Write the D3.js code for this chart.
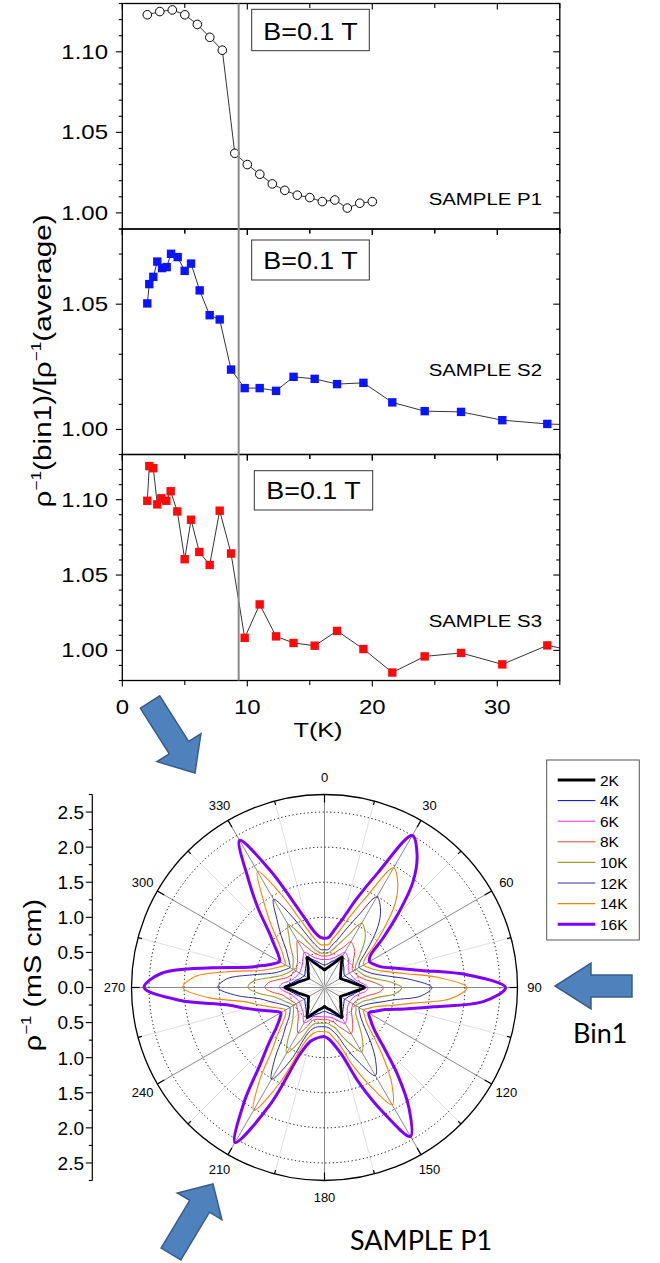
<!DOCTYPE html>
<html><head><meta charset="utf-8">
<script src="https://cdn.jsdelivr.net/npm/d3@7"></script>
<style>body{margin:0;background:#fff}svg{display:block}text{font-family:"Liberation Sans",Arial,sans-serif;fill:#000}</style>
</head><body><svg id="c" width="660" height="1263"></svg>
<script>
// ---------- DATA ----------
const tP1 = [2,3,4,5,6,7,8,9,10,11,12,13,14,15,16,17,18,19,20];
const vP1 = [1.123,1.125,1.126,1.123,1.117,1.109,1.101,1.037,1.030,1.024,1.018,1.014,1.011,1.0095,1.007,1.008,1.003,1.006,1.007];
const tS2 = [2.0,2.16,2.48,2.8,3.18,3.55,3.9,4.43,4.99,5.5,6.19,6.99,7.79,8.7,9.79,10.99,12.3,13.7,15.39,17.18,19.29,21.6,24.19,27.1,30.4,34.0,37.5];
const vS2 = [1.0503,1.058,1.0609,1.067,1.0644,1.0648,1.0701,1.0688,1.0633,1.0662,1.0555,1.0456,1.0439,1.0239,1.0165,1.0165,1.0154,1.0210,1.0202,1.0181,1.0186,1.0108,1.0073,1.0070,1.0037,1.0022,1.0015];
const tS3 = [2.0,2.16,2.48,2.8,3.12,3.52,3.87,4.4,4.99,5.5,6.16,6.99,7.79,8.7,9.79,10.99,12.3,13.7,15.39,17.18,19.29,21.6,24.19,27.1,30.4,34.0,37.5];
const vS3 = [1.0993,1.1223,1.1209,1.0969,1.1009,1.0993,1.1056,1.0922,1.0605,1.0867,1.0653,1.0567,1.0927,1.0643,1.0083,1.0305,1.0093,1.0049,1.0031,1.0129,1.0009,0.9853,0.996,0.9983,0.9907,1.0033,0.9975];
const xTicks = [0,10,20,30];
const tcLine = 9.31;

const angles = [0,5,10,15,20,25,30,35,40,45,50,55,60,65,70,75,80,85,90,95,100,105,110,115,120,125,130,135,140,145,150,155,160,165,170,175,180,185,190,195,200,205,210,215,220,225,230,235,240,245,250,255,260,265,270,275,280,285,290,295,300,305,310,315,320,325,330,335,340,345,350,355];
const r2K = [0.25,0.27,0.29,0.32,0.36,0.42,0.50,0.42,0.37,0.33,0.30,0.28,
0.26,0.28,0.31,0.35,0.40,0.47,0.57,0.47,0.40,0.35,0.31,0.28,
0.26,0.28,0.30,0.33,0.36,0.42,0.49,0.42,0.37,0.33,0.31,0.29,
0.27,0.29,0.31,0.33,0.37,0.42,0.49,0.42,0.36,0.33,0.30,0.28,
0.26,0.28,0.31,0.35,0.40,0.46,0.56,0.46,0.40,0.35,0.31,0.28,
0.26,0.28,0.30,0.33,0.36,0.42,0.49,0.41,0.36,0.32,0.29,0.27];
const r4K = [0.32,0.33,0.35,0.38,0.41,0.46,0.52,0.46,0.42,0.39,0.36,0.34,
0.33,0.35,0.37,0.41,0.45,0.51,0.59,0.51,0.45,0.41,0.37,0.35,
0.33,0.34,0.36,0.38,0.41,0.45,0.51,0.46,0.42,0.39,0.37,0.35,
0.34,0.35,0.37,0.39,0.42,0.46,0.51,0.45,0.41,0.38,0.36,0.34,
0.33,0.35,0.37,0.41,0.45,0.51,0.59,0.51,0.45,0.41,0.37,0.35,
0.33,0.34,0.36,0.38,0.41,0.45,0.51,0.45,0.41,0.38,0.35,0.33];
const r6K = [0.40,0.40,0.41,0.43,0.46,0.51,0.58,0.56,0.53,0.48,0.44,0.42,
0.41,0.42,0.43,0.45,0.49,0.56,0.62,0.59,0.51,0.46,0.43,0.42,
0.41,0.42,0.43,0.46,0.50,0.55,0.59,0.54,0.49,0.45,0.43,0.42,
0.42,0.42,0.42,0.43,0.44,0.52,0.58,0.53,0.47,0.45,0.43,0.42,
0.41,0.42,0.44,0.46,0.50,0.58,0.64,0.61,0.52,0.46,0.44,0.42,
0.41,0.42,0.43,0.45,0.48,0.53,0.58,0.52,0.46,0.43,0.41,0.40];
const r8K = [0.45,0.45,0.47,0.50,0.56,0.63,0.75,0.72,0.67,0.59,0.53,0.48,
0.47,0.48,0.50,0.54,0.61,0.73,0.84,0.78,0.64,0.56,0.51,0.48,
0.47,0.48,0.50,0.55,0.62,0.70,0.76,0.67,0.59,0.51,0.48,0.46,
0.46,0.46,0.46,0.47,0.50,0.64,0.75,0.67,0.58,0.53,0.50,0.48,
0.47,0.49,0.52,0.56,0.61,0.75,0.85,0.80,0.66,0.55,0.51,0.49,
0.47,0.49,0.51,0.54,0.60,0.68,0.77,0.66,0.56,0.50,0.47,0.45];
const r10K = [0.49,0.49,0.53,0.59,0.69,0.84,1.06,1.00,0.90,0.75,0.63,0.54,
0.52,0.54,0.57,0.62,0.73,0.93,1.10,1.01,0.79,0.67,0.58,0.54,
0.52,0.55,0.58,0.67,0.80,0.95,1.06,0.90,0.74,0.60,0.55,0.51,
0.51,0.51,0.52,0.53,0.60,0.86,1.08,0.91,0.73,0.64,0.58,0.54,
0.52,0.54,0.59,0.65,0.74,0.94,1.09,1.02,0.80,0.65,0.58,0.54,
0.52,0.55,0.58,0.64,0.75,0.88,1.04,0.85,0.68,0.57,0.52,0.49];
const r12K = [0.54,0.54,0.61,0.70,0.87,1.12,1.49,1.39,1.21,0.97,0.75,0.61,
0.57,0.60,0.65,0.74,0.93,1.25,1.53,1.38,1.01,0.81,0.68,0.61,
0.57,0.61,0.68,0.81,1.03,1.27,1.45,1.19,0.93,0.71,0.62,0.57,
0.56,0.56,0.57,0.60,0.70,1.15,1.51,1.23,0.93,0.78,0.66,0.60,
0.57,0.61,0.68,0.79,0.93,1.27,1.52,1.40,1.04,0.78,0.67,0.61,
0.57,0.61,0.68,0.78,0.96,1.18,1.45,1.14,0.85,0.68,0.59,0.54];
const r14K = [0.61,0.61,0.71,0.84,1.09,1.44,1.97,1.82,1.57,1.21,0.91,0.70,
0.64,0.68,0.75,0.89,1.15,1.63,2.03,1.81,1.28,0.99,0.79,0.70,
0.64,0.70,0.79,0.99,1.31,1.67,1.93,1.55,1.18,0.85,0.72,0.64,
0.63,0.63,0.64,0.69,0.84,1.49,2.02,1.61,1.16,0.94,0.78,0.68,
0.64,0.70,0.81,0.96,1.16,1.66,2.02,1.84,1.32,0.94,0.79,0.70,
0.64,0.70,0.79,0.94,1.20,1.52,1.91,1.47,1.05,0.81,0.68,0.61];
const r16K = [0.70,0.72,0.84,1.02,1.35,1.81,2.50,2.30,1.96,1.48,1.08,0.80,
0.74,0.78,0.86,1.06,1.40,2.05,2.58,2.28,1.58,1.18,0.92,0.80,
0.73,0.80,0.92,1.18,1.62,2.10,2.45,1.95,1.45,1.02,0.84,0.74,
0.70,0.71,0.74,0.80,1.00,1.85,2.55,2.00,1.42,1.12,0.90,0.78,
0.72,0.80,0.95,1.15,1.42,2.08,2.57,2.33,1.62,1.12,0.92,0.80,
0.74,0.80,0.93,1.12,1.47,1.90,2.42,1.85,1.30,0.98,0.80,0.72];
const tempLabels = ["2K","4K","6K","8K","10K","12K","14K","16K"];
const polarSeries = [r2K,r4K,r6K,r8K,r10K,r12K,r14K,r16K];
const polarColors = ["#000000","#0000ff","#ff22ff","#ff3a3a","#9c9c3a","#2e2e99","#ff8000","#8000ff"];
const polarWidths = [2.8,1,1,1,1.1,1,1.1,3];
const angleLabels = [0,30,60,90,120,150,180,210,240,270,300,330];
const radialTicks = [0.5,1.0,1.5,2.0,2.5];

// ---------- DRAW ----------
const svg = d3.select("#c");
const x = d3.scaleLinear().domain([0,35]).range([122.3,559.8]);

function stext(g, str, tx, ty, size, sx, anchor, extra) {
  return g.append("text")
    .attr("transform", `translate(${tx},${ty})${extra||""} scale(${sx},1)`)
    .attr("font-size", size).attr("text-anchor", anchor).text(str);
}

const panels = [
  {T:tP1, v:vP1, dom:[0.99,1.13], top:3.5, bot:229, labels:[1.00,1.05,1.10], kind:"circle",
   box:[251.7,9.3,117.6,41.4], boxBase:40, sample:"SAMPLE P1", sampleBase:205},
  {T:tS2, v:vS2, dom:[0.99,1.08], top:229, bot:454.5, labels:[1.00,1.05], kind:"square", color:"#0a14ff",
   box:[251.7,240,117.6,40], boxBase:269, sample:"SAMPLE S2", sampleBase:375.5},
  {T:tS3, v:vS3, dom:[0.98,1.13], top:454.5, bot:680.5, labels:[1.00,1.05,1.10], kind:"square", color:"#ff0a0a",
   box:[254.3,470.7,118.4,39.3], boxBase:499, sample:"SAMPLE S3", sampleBase:626.5}
];
const x0 = x(0), x1 = x(35);

panels.forEach((p, i) => {
  const y = d3.scaleLinear().domain(p.dom).range([p.bot, p.top]);
  const g = svg.append("g");
  const cid = "clip" + i;
  svg.append("clipPath").attr("id", cid).append("rect")
    .attr("x", x0).attr("y", p.top).attr("width", x1 - x0).attr("height", p.bot - p.top);
  // y ticks (left outward, right inward)
  const k0 = Math.ceil(p.dom[0]*100 - 1e-6), k1 = Math.floor(p.dom[1]*100 + 1e-6);
  for (let k = k0; k <= k1; k++) {
    const yy = y(k/100), major = k % 5 === 0, L = major ? 6.5 : 3.5;
    g.append("line").attr("x1", x0 - L).attr("x2", x0).attr("y1", yy).attr("y2", yy).attr("stroke","#000").attr("stroke-width",1.1);
    g.append("line").attr("x1", x1 - L).attr("x2", x1).attr("y1", yy).attr("y2", yy).attr("stroke","#000").attr("stroke-width",1.1);
  }
  p.labels.forEach(v => stext(g, v.toFixed(2), 108, y(v) + 7, 20, 1.2, "end"));
  // x ticks (top inward, bottom outward -> both point down)
  for (let t = 0; t <= 35; t += 5) {
    const L = t % 10 === 0 ? 6 : 4.5;
    [p.top, p.bot].forEach(yy => g.append("line").attr("x1", x(t)).attr("x2", x(t))
      .attr("y1", yy).attr("y2", yy + L).attr("stroke","#000").attr("stroke-width",1.1));
  }
  // connecting line and markers
  const pts = p.T.map((t, j) => [t, p.v[j]]);
  const dg = g.append("g").attr("clip-path", `url(#${cid})`);
  dg.append("path").datum(pts)
    .attr("d", d3.line().x(d => x(d[0])).y(d => y(d[1])))
    .attr("fill","none").attr("stroke","#000").attr("stroke-width",0.8);
  if (p.kind === "circle") {
    dg.selectAll("circle").data(pts).join("circle")
      .attr("cx", d => x(d[0])).attr("cy", d => y(d[1])).attr("r", 4.3)
      .attr("fill","#fff").attr("stroke","#000").attr("stroke-width",1);
  } else {
    const s = 8.4;
    dg.selectAll("rect.m").data(pts).join("rect").attr("class","m")
      .attr("x", d => x(d[0]) - s/2).attr("y", d => y(d[1]) - s/2)
      .attr("width", s).attr("height", s).attr("fill", p.color);
  }
  // B box
  g.append("rect").attr("x", p.box[0]).attr("y", p.box[1]).attr("width", p.box[2]).attr("height", p.box[3])
    .attr("fill","#fff").attr("stroke","#333").attr("stroke-width",1);
  stext(g, "B=0.1 T", p.box[0] + p.box[2]/2, p.boxBase, 23, 1.17, "middle");
  stext(g, p.sample, 542, p.sampleBase, 17, 1.2, "end");
  // frame
  g.append("rect").attr("x", x0).attr("y", p.top).attr("width", x1 - x0).attr("height", p.bot - p.top)
    .attr("fill","none").attr("stroke","#000").attr("stroke-width",1.3);
});

// vertical Tc line
svg.append("line").attr("x1", x(tcLine)).attr("x2", x(tcLine)).attr("y1", 3.5).attr("y2", 680.5)
  .attr("stroke","#8a8a8a").attr("stroke-width",2);

// x tick labels and title
xTicks.forEach(t => stext(svg, String(t), x(t), 713.5, 21, 1.14, "middle"));
stext(svg, "T(K)", 318, 737, 21, 1.2, "middle");

// y axis title (rotated)
const yl = svg.append("text").attr("transform","translate(51,361) rotate(-90) scale(1.24,1)")
  .attr("text-anchor","middle").attr("font-size",24);
yl.append("tspan").text("ρ");
yl.append("tspan").attr("dy",-10).attr("font-size",14).text("−1");
yl.append("tspan").attr("dy",10).text("(bin1)/[ρ");
yl.append("tspan").attr("dy",-10).attr("font-size",14).text("−1");
yl.append("tspan").attr("dy",10).text("(average)");

// ---------- POLAR ----------
const cx = 324.5, cy = 987.5, R = 193;
const rs = d3.scaleLinear().domain([0,2.75]).range([0,R]);
const pg = svg.append("g").attr("transform",`translate(${cx},${cy})`);
const rad = a => a * Math.PI / 180;
for (let a = 0; a < 360; a += 15) {
  const major = a % 30 === 0;
  pg.append("line").attr("x1",0).attr("y1",0)
    .attr("x2", Math.sin(rad(a)) * R).attr("y2", -Math.cos(rad(a)) * R)
    .attr("stroke", major ? "#8a8a8a" : "#dcdcdc").attr("stroke-width", major ? 1 : 0.9);
}
radialTicks.forEach(v => pg.append("circle").attr("r", rs(v)).attr("fill","none")
  .attr("stroke","#000").attr("stroke-width",1).attr("stroke-dasharray","1.2,2.6"));
pg.append("circle").attr("r", R).attr("fill","none").attr("stroke","#000").attr("stroke-width",1.3);
for (let a = 0; a < 360; a += 15) {
  const L = a % 30 === 0 ? 8 : 4;
  pg.append("line")
    .attr("x1", Math.sin(rad(a)) * R).attr("y1", -Math.cos(rad(a)) * R)
    .attr("x2", Math.sin(rad(a)) * (R - L)).attr("y2", -Math.cos(rad(a)) * (R - L))
    .attr("stroke","#000").attr("stroke-width",1.2);
}
const radial = d3.lineRadial().angle(d => rad(d[0])).radius(d => rs(d[1]))
  .curve(d3.curveCatmullRomClosed.alpha(0.5));
for (let i = polarSeries.length - 1; i >= 0; i--) {
  const data = angles.map((a, j) => [a, polarSeries[i][j]]);
  pg.append("path").datum(data).attr("d", radial).attr("fill","none")
    .attr("stroke", polarColors[i]).attr("stroke-width", polarWidths[i]).attr("stroke-linejoin","round");
}
angleLabels.forEach(a => pg.append("text")
  .attr("x", Math.sin(rad(a)) * 210).attr("y", -Math.cos(rad(a)) * 210).attr("dy","0.35em")
  .attr("text-anchor","middle").attr("font-size",13).text(a));

// left radial axis
const ax = 92.3;
svg.append("line").attr("x1",ax).attr("x2",ax).attr("y1",cy - rs(2.75)).attr("y2",cy + rs(2.75))
  .attr("stroke","#000").attr("stroke-width",1.2);
for (let k = 0; k <= 11; k++) {
  const v = k * 0.25, major = k % 2 === 0, L = major ? 6.5 : 3.5;
  const ys = k === 0 ? [cy] : [cy - rs(v), cy + rs(v)];
  ys.forEach(yy => {
    svg.append("line").attr("x1", ax - L).attr("x2", ax).attr("y1", yy).attr("y2", yy)
      .attr("stroke","#000").attr("stroke-width",1.1);
    if (major && v <= 2.5) svg.append("text").attr("x", 84).attr("y", yy).attr("dy","0.36em")
      .attr("text-anchor","end").attr("font-size",19).text(v.toFixed(1));
  });
}
const pl = svg.append("text").attr("transform","translate(41,975) rotate(-90) scale(1.2,1)")
  .attr("text-anchor","middle").attr("font-size",24);
pl.append("tspan").text("ρ");
pl.append("tspan").attr("dy",-10).attr("font-size",14).text("−1");
pl.append("tspan").attr("dy",10).text(" (mS cm)");

// legend
const lg = svg.append("g");
lg.append("rect").attr("x",546.7).attr("y",760).attr("width",92.6).attr("height",180)
  .attr("fill","#fff").attr("stroke","#555").attr("stroke-width",1);
tempLabels.forEach((lab, i) => {
  const yy = 780 + i * 20.6;
  lg.append("line").attr("x1",557.7).attr("x2",595.3).attr("y1",yy).attr("y2",yy)
    .attr("stroke", polarColors[i]).attr("stroke-width", polarWidths[i]);
  lg.append("text").attr("x",600).attr("y",yy).attr("dy","0.36em").attr("font-size",15.5).text(lab);
});

// block arrows
function arrow(tail, tip, shaftW, headW, headL) {
  const dx = tip[0]-tail[0], dy = tip[1]-tail[1], L = Math.hypot(dx,dy);
  const ux = dx/L, uy = dy/L, px = -uy, py = ux;
  const bx = tip[0]-ux*headL, by = tip[1]-uy*headL;
  const pts = [
    [tail[0]+px*shaftW/2, tail[1]+py*shaftW/2],
    [bx+px*shaftW/2, by+py*shaftW/2],
    [bx+px*headW/2, by+py*headW/2],
    tip,
    [bx-px*headW/2, by-py*headW/2],
    [bx-px*shaftW/2, by-py*shaftW/2],
    [tail[0]-px*shaftW/2, tail[1]-py*shaftW/2]];
  svg.append("polygon").attr("points", pts.map(p => p.join(",")).join(" "))
    .attr("fill","#4f81bd").attr("stroke","#385d8a").attr("stroke-width",1.5);
}
arrow([150,702],[195,773],23,52,30);
arrow([632,986],[555,986],22,46,36);
arrow([171,1254],[213,1184],23,52,26);

svg.append("text").attr("x",573).attr("y",1043).attr("font-size",27)
  .style("font-family","Lato, 'Open Sans', sans-serif").text("Bin1");
svg.append("text").attr("x",350).attr("y",1250).attr("font-size",27)
  .style("font-family","Lato, 'Open Sans', sans-serif").text("SAMPLE P1");
</script></body></html>
